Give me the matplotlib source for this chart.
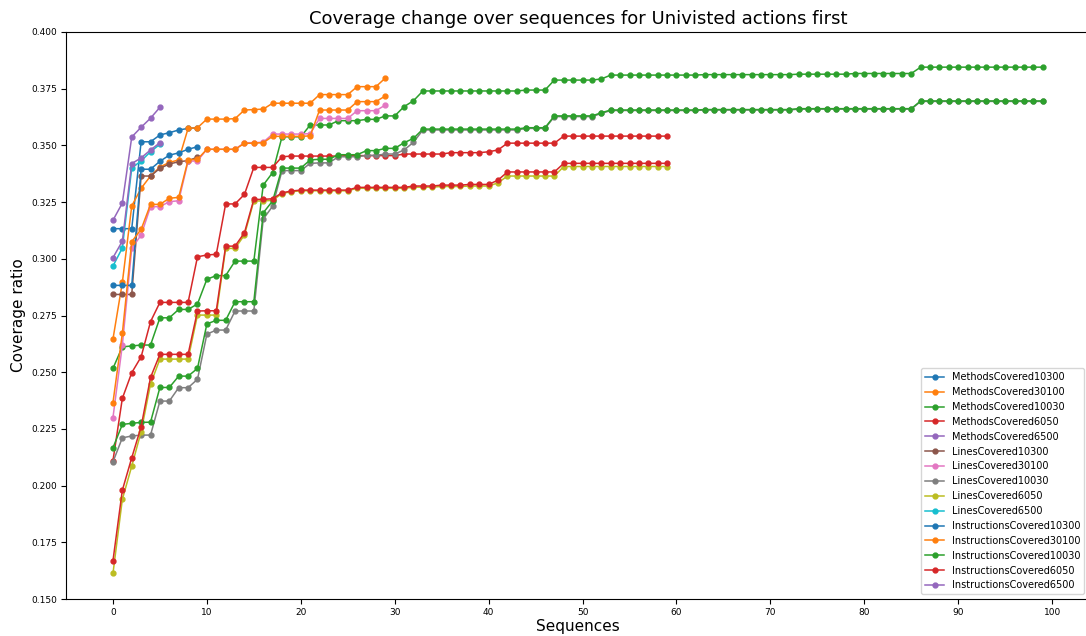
import matplotlib
matplotlib.use("Agg")
import matplotlib.pyplot as plt

# coverage ratios read per sequence index
methods_10300 = [0.3133, 0.3133, 0.3133, 0.3516, 0.3516, 0.3546, 0.3556, 0.3568, 0.3575, 0.3578]
methods_30100 = [0.2646, 0.2896, 0.3233, 0.3311, 0.3365, 0.3405, 0.3425, 0.3436, 0.3575, 0.3578,
                 0.3616, 0.3616, 0.3616, 0.3618, 0.3656, 0.3658, 0.3660, 0.3686, 0.3686, 0.3686,
                 0.3686, 0.3686, 0.3724, 0.3724, 0.3724, 0.3724, 0.3759, 0.3759, 0.3759, 0.3797]
methods_10030 = [0.2517, 0.2612, 0.2616, 0.2620, 0.2620, 0.2740, 0.2740, 0.2777, 0.2777, 0.2801,
                 0.2910, 0.2926, 0.2926, 0.2990, 0.2990, 0.2990, 0.3325, 0.3380, 0.3538, 0.3538,
                 0.3538, 0.3590, 0.3590, 0.3590, 0.3609, 0.3609, 0.3609, 0.3615, 0.3615, 0.3630,
                 0.3630, 0.3671, 0.3697, 0.3740, 0.3740, 0.3740, 0.3740, 0.3740, 0.3740, 0.3740,
                 0.3740, 0.3740, 0.3740, 0.3740, 0.3744, 0.3744, 0.3744, 0.3788, 0.3788, 0.3788,
                 0.3788, 0.3788, 0.3793, 0.3810, 0.3810, 0.3810, 0.3810, 0.3810, 0.3810, 0.3810,
                 0.3810, 0.3810, 0.3810, 0.3812, 0.3812, 0.3812, 0.3812, 0.3812, 0.3812, 0.3812,
                 0.3812, 0.3812, 0.3812, 0.3814, 0.3814, 0.3814, 0.3814, 0.3814, 0.3814, 0.3817,
                 0.3817, 0.3817, 0.3817, 0.3817, 0.3817, 0.3817, 0.3845, 0.3845, 0.3845, 0.3845,
                 0.3845, 0.3845, 0.3845, 0.3845, 0.3845, 0.3845, 0.3845, 0.3845, 0.3845, 0.3845]
methods_6050 = [0.2110, 0.2385, 0.2498, 0.2568, 0.2723, 0.2808, 0.2808, 0.2808, 0.2808, 0.3009,
                0.3017, 0.3020, 0.3242, 0.3242, 0.3284, 0.3403, 0.3403, 0.3403, 0.3450, 0.3453,
                0.3453, 0.3453, 0.3453, 0.3453, 0.3453, 0.3455, 0.3455, 0.3455, 0.3455, 0.3455,
                0.3455, 0.3462, 0.3462, 0.3462, 0.3462, 0.3462, 0.3468, 0.3468, 0.3468, 0.3468,
                0.3472, 0.3480, 0.3510, 0.3510, 0.3510, 0.3510, 0.3510, 0.3510, 0.3541, 0.3541,
                0.3541, 0.3541, 0.3541, 0.3541, 0.3541, 0.3541, 0.3541, 0.3541, 0.3541, 0.3541]
methods_6500 = [0.3170, 0.3246, 0.3537, 0.3580, 0.3620, 0.3668]

lines_10300 = [0.2843, 0.2843, 0.2843, 0.3365, 0.3365, 0.3399, 0.3418, 0.3428, 0.3433, 0.3448]
lines_30100 = [0.2300, 0.2620, 0.3046, 0.3105, 0.3230, 0.3230, 0.3252, 0.3256, 0.3430, 0.3432,
               0.3483, 0.3483, 0.3483, 0.3483, 0.3512, 0.3512, 0.3514, 0.3550, 0.3550, 0.3550,
               0.3550, 0.3552, 0.3619, 0.3619, 0.3619, 0.3619, 0.3653, 0.3653, 0.3653, 0.3678]
lines_10030 = [0.2105, 0.2211, 0.2219, 0.2223, 0.2223, 0.2373, 0.2373, 0.2432, 0.2432, 0.2469,
               0.2668, 0.2686, 0.2686, 0.2770, 0.2770, 0.2770, 0.3175, 0.3232, 0.3389, 0.3389,
               0.3389, 0.3421, 0.3423, 0.3423, 0.3450, 0.3450, 0.3450, 0.3456, 0.3456, 0.3462,
               0.3462, 0.3480, 0.3514, 0.3568, 0.3568, 0.3568, 0.3568, 0.3568, 0.3568, 0.3568,
               0.3568, 0.3568, 0.3568, 0.3568, 0.3575, 0.3575, 0.3575, 0.3627, 0.3627, 0.3627,
               0.3627, 0.3627, 0.3641, 0.3654, 0.3654, 0.3654, 0.3654, 0.3654, 0.3654, 0.3654,
               0.3654, 0.3654, 0.3654, 0.3656, 0.3656, 0.3656, 0.3656, 0.3656, 0.3656, 0.3656,
               0.3656, 0.3656, 0.3656, 0.3660, 0.3660, 0.3660, 0.3660, 0.3660, 0.3660, 0.3660,
               0.3660, 0.3660, 0.3660, 0.3660, 0.3660, 0.3660, 0.3694, 0.3694, 0.3694, 0.3694,
               0.3694, 0.3694, 0.3694, 0.3694, 0.3694, 0.3694, 0.3694, 0.3694, 0.3694, 0.3694]
lines_6050 = [0.1613, 0.1940, 0.2086, 0.2238, 0.2448, 0.2558, 0.2558, 0.2558, 0.2558, 0.2752,
              0.2752, 0.2752, 0.3046, 0.3046, 0.3105, 0.3255, 0.3255, 0.3258, 0.3288, 0.3296,
              0.3300, 0.3300, 0.3300, 0.3300, 0.3300, 0.3300, 0.3311, 0.3311, 0.3311, 0.3311,
              0.3311, 0.3311, 0.3316, 0.3316, 0.3316, 0.3319, 0.3319, 0.3319, 0.3321, 0.3321,
              0.3321, 0.3335, 0.3365, 0.3365, 0.3365, 0.3365, 0.3365, 0.3365, 0.3407, 0.3407,
              0.3407, 0.3407, 0.3407, 0.3407, 0.3407, 0.3407, 0.3407, 0.3407, 0.3407, 0.3407]
lines_6500 = [0.2968, 0.3048, 0.3400, 0.3432, 0.3472, 0.3505]

instr_10300 = [0.2883, 0.2883, 0.2883, 0.3395, 0.3395, 0.3430, 0.3457, 0.3467, 0.3483, 0.3494]
instr_30100 = [0.2366, 0.2671, 0.3076, 0.3130, 0.3240, 0.3240, 0.3267, 0.3271, 0.3436, 0.3439,
               0.3483, 0.3483, 0.3483, 0.3483, 0.3509, 0.3510, 0.3512, 0.3540, 0.3540, 0.3540,
               0.3540, 0.3542, 0.3656, 0.3656, 0.3656, 0.3656, 0.3693, 0.3693, 0.3693, 0.3718]
instr_10030 = [0.2167, 0.2270, 0.2275, 0.2279, 0.2280, 0.2433, 0.2433, 0.2483, 0.2483, 0.2517,
               0.2713, 0.2729, 0.2729, 0.2811, 0.2811, 0.2811, 0.3203, 0.3255, 0.3400, 0.3400,
               0.3400, 0.3436, 0.3439, 0.3439, 0.3459, 0.3459, 0.3459, 0.3477, 0.3477, 0.3487,
               0.3487, 0.3512, 0.3531, 0.3572, 0.3572, 0.3572, 0.3572, 0.3572, 0.3572, 0.3572,
               0.3572, 0.3572, 0.3572, 0.3572, 0.3578, 0.3578, 0.3578, 0.3630, 0.3630, 0.3630,
               0.3630, 0.3630, 0.3644, 0.3656, 0.3656, 0.3656, 0.3656, 0.3656, 0.3656, 0.3656,
               0.3656, 0.3656, 0.3656, 0.3658, 0.3658, 0.3658, 0.3658, 0.3658, 0.3658, 0.3658,
               0.3658, 0.3658, 0.3658, 0.3662, 0.3662, 0.3662, 0.3662, 0.3662, 0.3662, 0.3662,
               0.3662, 0.3662, 0.3662, 0.3662, 0.3662, 0.3662, 0.3696, 0.3696, 0.3696, 0.3696,
               0.3696, 0.3696, 0.3696, 0.3696, 0.3696, 0.3696, 0.3696, 0.3696, 0.3696, 0.3696]
instr_6050 = [0.1669, 0.1980, 0.2123, 0.2260, 0.2477, 0.2579, 0.2579, 0.2579, 0.2579, 0.2770,
              0.2771, 0.2771, 0.3056, 0.3056, 0.3115, 0.3262, 0.3262, 0.3265, 0.3291, 0.3299,
              0.3303, 0.3303, 0.3303, 0.3303, 0.3303, 0.3303, 0.3315, 0.3315, 0.3315, 0.3315,
              0.3315, 0.3315, 0.3321, 0.3321, 0.3321, 0.3325, 0.3325, 0.3325, 0.3328, 0.3328,
              0.3328, 0.3347, 0.3383, 0.3383, 0.3383, 0.3383, 0.3383, 0.3383, 0.3421, 0.3421,
              0.3421, 0.3421, 0.3421, 0.3421, 0.3421, 0.3421, 0.3421, 0.3421, 0.3421, 0.3421]
instr_6500 = [0.3005, 0.3078, 0.3420, 0.3445, 0.3480, 0.3512]

series = [
    ("MethodsCovered10300", methods_10300),
    ("MethodsCovered30100", methods_30100),
    ("MethodsCovered10030", methods_10030),
    ("MethodsCovered6050", methods_6050),
    ("MethodsCovered6500", methods_6500),
    ("LinesCovered10300", lines_10300),
    ("LinesCovered30100", lines_30100),
    ("LinesCovered10030", lines_10030),
    ("LinesCovered6050", lines_6050),
    ("LinesCovered6500", lines_6500),
    ("InstructionsCovered10300", instr_10300),
    ("InstructionsCovered30100", instr_30100),
    ("InstructionsCovered10030", instr_10030),
    ("InstructionsCovered6050", instr_6050),
    ("InstructionsCovered6500", instr_6500),
]

x_ticks = [0, 10, 20, 30, 40, 50, 60, 70, 80, 90, 100]
y_ticks = [0.150, 0.175, 0.200, 0.225, 0.250, 0.275, 0.300, 0.325, 0.350, 0.375, 0.400]

fig = plt.figure(figsize=(10.86, 6.36), dpi=100)
fig.subplots_adjust(left=0.0612, right=1.003, bottom=0.058, top=0.9497)

for name, vals in series:
    plt.plot(range(len(vals)), vals, marker=".", markersize=7, linewidth=1.1, label=name)

plt.ylim(0.15, 0.40)
plt.xticks(x_ticks)
plt.yticks(y_ticks, [f"{t:.3f}" for t in y_ticks])
plt.title("Coverage change over sequences for Univisted actions first", fontsize=13)
plt.xlabel("Sequences", fontsize=11, labelpad=1)
plt.ylabel("Coverage ratio", fontsize=11)
plt.tick_params(labelsize=6.5, pad=3)
plt.legend(loc="lower right", fontsize=7)

plt.savefig("out.png", dpi=100)
